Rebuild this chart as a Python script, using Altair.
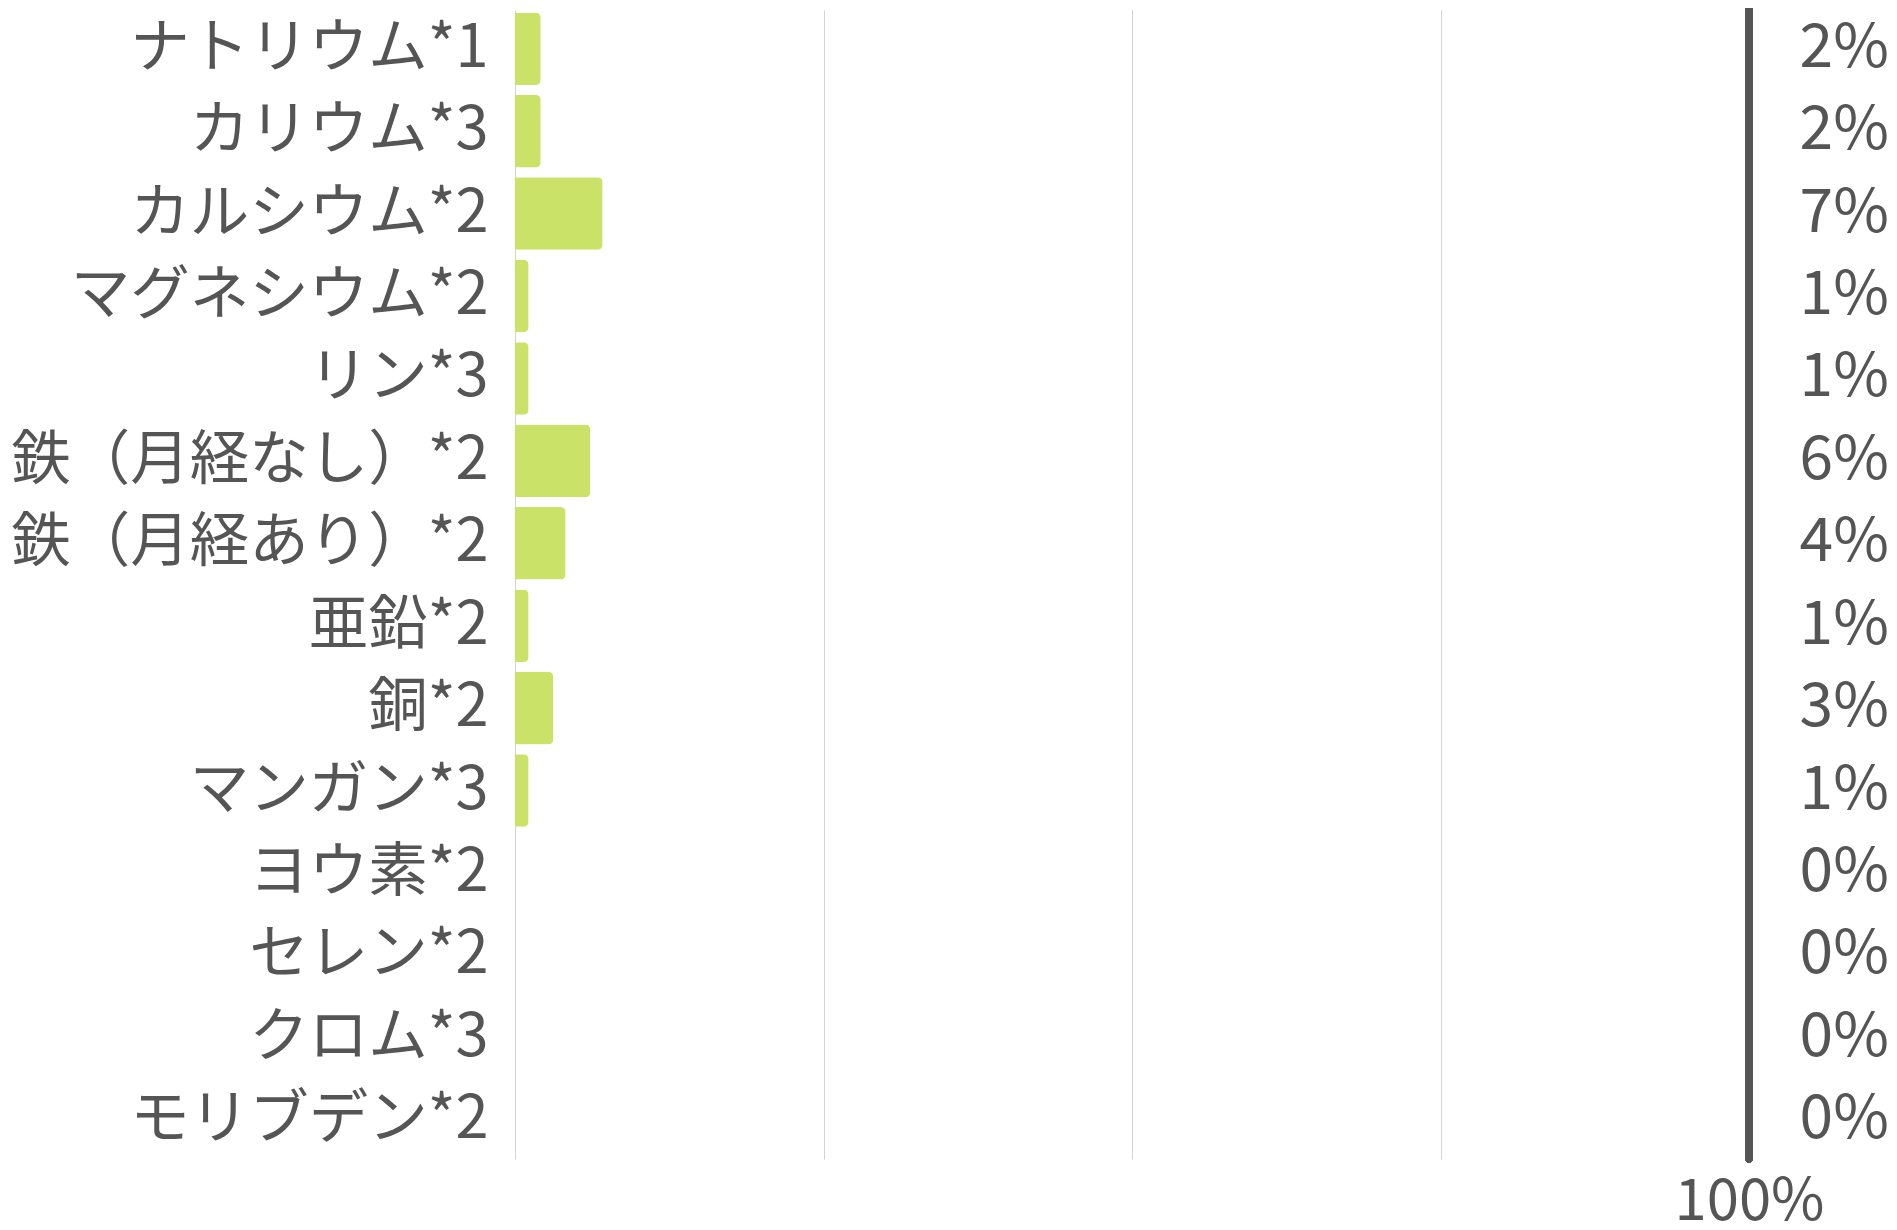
import altair as alt
import pandas as pd

categories = ["ナトリウム*1", "カリウム*3", "カルシウム*2", "マグネシウム*2", "リン*3",
              "鉄（月経なし）*2", "鉄（月経あり）*2", "亜鉛*2", "銅*2", "マンガン*3",
              "ヨウ素*2", "セレン*2", "クロム*3", "モリブデン*2"]
values = [2.08, 2.08, 7.1, 1.1, 1.1, 6.1, 4.1, 1.1, 3.1, 1.1, 0, 0, 0, 0]
value_labels = ["2%", "2%", "7%", "1%", "1%", "6%", "4%", "1%", "3%", "1%", "0%", "0%", "0%", "0%"]
grid_ticks = [0, 25, 50, 75, 100]
target = 100
label_pos = 104.1

df = pd.DataFrame({"cat": categories, "val": values, "lab": value_labels})

FONT = "Noto Sans CJK JP"
TXT = "#555555"

y_enc = alt.Y("cat:N", sort=None,
              scale=alt.Scale(paddingInner=0.12, paddingOuter=0.03),
              axis=alt.Axis(title=None, domain=False, ticks=False, grid=False,
                            labelFont=FONT, labelFontSize=59.5, labelColor=TXT,
                            labelPadding=27, labelLimit=0))

x_scale = alt.Scale(domain=[0, 100], nice=False)

bars = alt.Chart(df).mark_bar(color="#cae267", cornerRadiusEnd=5).encode(
    x=alt.X("val:Q", scale=x_scale,
            axis=alt.Axis(title=None, values=grid_ticks, domain=False, ticks=False,
                          grid=True, gridColor="#d3d3d3", gridWidth=1,
                          labelExpr="datum.value == 100 ? '100%' : ''",
                          labelFont=FONT, labelFontSize=58, labelColor=TXT,
                          labelPadding=14, labelFlush=False, labelOverlap=False)),
    y=y_enc,
)

rule = alt.Chart(df).mark_rule(color=TXT, strokeWidth=7, strokeCap="round").encode(
    x=alt.datum(target)
)

texts = alt.Chart(df).mark_text(align="left", baseline="middle", font=FONT,
                                fontSize=60.5, color=TXT).encode(
    x=alt.datum(label_pos),
    y=alt.Y("cat:N", sort=None),
    text="lab:N",
)

chart = alt.layer(bars, rule, texts).properties(
    width=1234, height=1149,
    autosize=alt.AutoSizeParams(type="none"),
    padding={"left": 507, "top": 2, "right": 140, "bottom": 62},
).configure_view(stroke=None)

chart.save("out.html", embed_options={"renderer": "svg", "actions": False})
